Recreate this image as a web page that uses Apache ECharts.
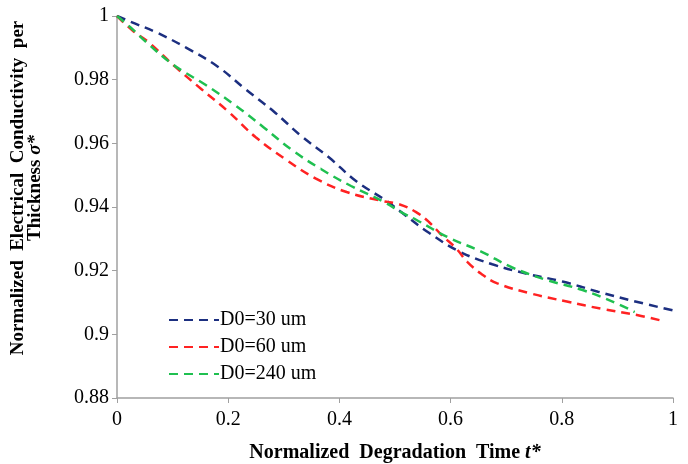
<!DOCTYPE html>
<html>
<head>
<meta charset="utf-8">
<script src="https://cdn.jsdelivr.net/npm/echarts@6/dist/echarts.min.js"></script>
<style>
  html, body { margin: 0; padding: 0; background: #fff; }
  #chart { width: 688px; height: 464px; }
</style>
</head>
<body>
<div id="chart"></div>
<script>
// 曲线数据 (t*, sigma*)
const tBlue = [0, 0.034, 0.069, 0.125, 0.182, 0.231, 0.282, 0.330, 0.381, 0.431, 0.484, 0.511, 0.561, 0.616, 0.675, 0.738, 0.801, 0.865, 0.926, 1.0];
const sBlue = [1, 0.9975, 0.995, 0.990, 0.984, 0.977, 0.970, 0.9625, 0.9556, 0.948, 0.942, 0.9384, 0.9319, 0.926, 0.922, 0.919, 0.9166, 0.9134, 0.9106, 0.9075];

const tRed = [0, 0.029, 0.056, 0.105, 0.152, 0.200, 0.249, 0.303, 0.357, 0.413, 0.477, 0.507, 0.538, 0.561, 0.585, 0.610, 0.630, 0.655, 0.684, 0.745, 0.809, 0.872, 0.937, 0.977];
const sRed = [1, 0.9953, 0.9919, 0.984, 0.977, 0.970, 0.962, 0.955, 0.949, 0.9447, 0.9419, 0.9409, 0.9384, 0.9353, 0.931, 0.927, 0.9228, 0.919, 0.916, 0.9128, 0.9103, 0.908, 0.906, 0.9044];

const tGreen = [0, 0.025, 0.052, 0.101, 0.159, 0.213, 0.264, 0.314, 0.366, 0.421, 0.480, 0.511, 0.538, 0.594, 0.655, 0.711, 0.774, 0.836, 0.899, 0.931];
const sGreen = [1, 0.9963, 0.9919, 0.9847, 0.9784, 0.9719, 0.965, 0.958, 0.952, 0.9466, 0.9416, 0.9384, 0.936, 0.9306, 0.926, 0.921, 0.917, 0.914, 0.9097, 0.907];

const seriesNames = ["D0=30 um", "D0=60 um", "D0=240 um"];
const seriesColors = ["#1c2f80", "#ff2222", "#1fc050"];

function pairs(xs, ys) {
  let out = [];
  for (let i = 0; i < xs.length; i++) out.push([xs[i], ys[i]]);
  return out;
}

const lines = [pairs(tBlue, sBlue), pairs(tRed, sRed), pairs(tGreen, sGreen)];

let myChart = echarts.init(document.getElementById("chart"));
let option = {
  animation: false,
  textStyle: { fontFamily: "Liberation Serif" },
  grid: { left: 117, right: 15, top: 16, bottom: 66, containLabel: false, outerBoundsMode: "none" },
  legend: {
    orient: "vertical",
    left: 163,
    top: 305,
    itemWidth: 50,
    itemHeight: 12,
    itemGap: 7,
    itemStyle: { opacity: 0 },
    textStyle: { fontSize: 20, color: "#000", fontFamily: "Liberation Serif", padding: [0, 0, 0, -4] },
    data: seriesNames
  },
  xAxis: {
    type: "value",
    min: 0,
    max: 1,
    interval: 0.2,
    name: "Normalized  Degradation  Time {i|t*}",
    nameLocation: "middle",
    nameGap: 45,
    nameTextStyle: {
      fontSize: 20, fontWeight: "bold", color: "#000", fontFamily: "Liberation Serif",
      rich: { i: { fontSize: 20, fontWeight: "bold", fontStyle: "italic", fontFamily: "Liberation Serif" } }
    },
    axisLine: { lineStyle: { color: "#a0a0a0", width: 1.5 } },
    axisTick: { show: true, length: 5, lineStyle: { color: "#a0a0a0" } },
    axisLabel: { fontSize: 20, color: "#000", margin: 12, formatter: v => String(+v.toFixed(1)) },
    splitLine: { show: false }
  },
  yAxis: {
    type: "value",
    min: 0.88,
    max: 1,
    interval: 0.02,
    name: "Normalized  Electrical  Conductivity  per\nThickness {i|σ*}",
    nameLocation: "middle",
    nameGap: 73,
    nameTextStyle: {
      fontSize: 19, fontWeight: "bold", color: "#000", fontFamily: "Liberation Serif", lineHeight: 17,
      padding: [0, 0, 0, 38],
      rich: { i: { fontSize: 19, fontWeight: "bold", fontStyle: "italic", fontFamily: "Liberation Serif" } }
    },
    axisLine: { show: true, lineStyle: { color: "#a0a0a0", width: 1.5 } },
    axisTick: { show: true, length: 5, lineStyle: { color: "#a0a0a0" } },
    axisLabel: { fontSize: 20, color: "#000", margin: 8, formatter: v => String(+v.toFixed(2)) },
    splitLine: { show: false }
  },
  series: seriesNames.map((name, k) => ({
    name: name,
    type: "line",
    data: lines[k],
    smooth: 0.4,
    symbol: "none",
    color: seriesColors[k],
    lineStyle: { color: seriesColors[k], width: 2.5, type: [9, 6] }
  }))
};
myChart.setOption(option, true);
</script>
</body>
</html>
